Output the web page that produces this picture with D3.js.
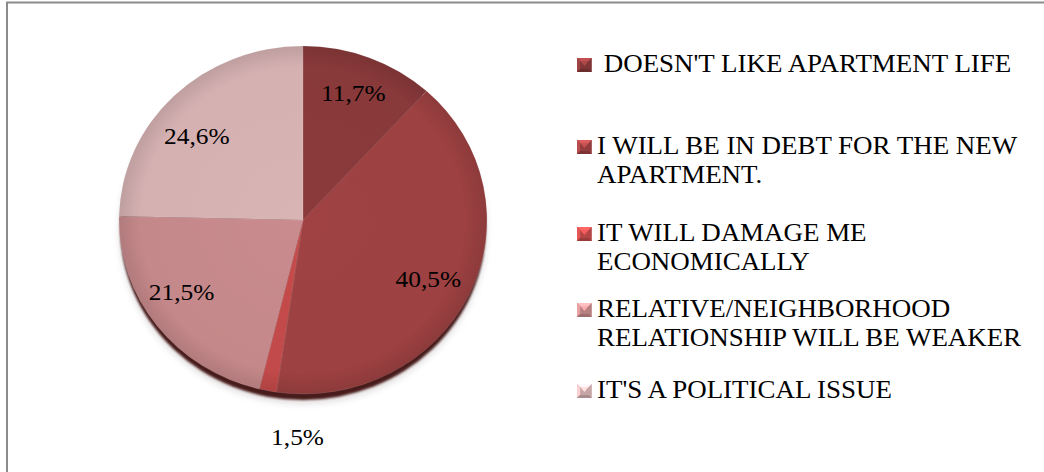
<!DOCTYPE html>
<html>
<head>
<meta charset="utf-8">
<script src="https://cdn.jsdelivr.net/npm/d3@7/dist/d3.min.js"></script>
<style>
  html, body { margin: 0; padding: 0; background: #fff; }
  svg { display: block; }
  text { font-family: "Liberation Serif", "Times New Roman", serif; fill: #000; }
</style>
</head>
<body>
<svg id="chart" width="1044" height="472"></svg>
<script>
// Survey answers: reasons given against the new apartment
const categories = [
  [" DOESN'T LIKE APARTMENT LIFE"],
  ["I WILL BE IN DEBT FOR THE NEW", "APARTMENT."],
  ["IT WILL DAMAGE ME", "ECONOMICALLY"],
  ["RELATIVE/NEIGHBORHOOD", "RELATIONSHIP WILL BE WEAKER"],
  ["IT'S A POLITICAL ISSUE"]
];
const values = [11.7, 40.5, 1.5, 21.5, 24.6];
const colors = ["#8b3a3b", "#a04243", "#c64b4b", "#c98b8d", "#d9b4b5"];

// Layout
const W = 1044, H = 472;
const SX = 1.057;                 // horizontal stretch of the whole drawing
const cx = 303 / SX, cy = 220, R = 174;
const labelRadius = [0.76, 0.76, 1.24, 0.76, 0.76];
const labelNudge = [[0, -4], [-1, 2], [36, 5], [-10, -9], [-8, 10]];
const legendX = 577 / SX, legendTextX = 597 / SX;
const legendBaselines = [72, 154, 241, 317, 398];
const lineHeight = 29.5;
const markerSize = 14;

const fmt = v => d3.format(".1f")(v).replace(".", ",") + "%";

const svg = d3.select("#chart");
const defs = svg.append("defs");

// Chart frame (only its top and left edges fall inside the view)
svg.append("rect")
  .attr("x", 7).attr("y", 2.5)
  .attr("width", W + 20).attr("height", H + 20)
  .attr("fill", "none")
  .attr("stroke", "#8c8c8c")
  .attr("stroke-width", 2);

const root = svg.append("g").attr("transform", `scale(${SX},1)`);

// Soft shading filters / gradients
const blur = defs.append("filter").attr("id", "rimBlur")
  .attr("x", "-20%").attr("y", "-20%").attr("width", "140%").attr("height", "140%");
blur.append("feGaussianBlur").attr("stdDeviation", 1.1);

const shadowBlur = defs.append("filter").attr("id", "shadowBlur")
  .attr("x", "-20%").attr("y", "-20%").attr("width", "140%").attr("height", "140%");
shadowBlur.append("feGaussianBlur").attr("stdDeviation", 3);

const edgeGrad = defs.append("radialGradient").attr("id", "edgeShade")
  .attr("cx", "50%").attr("cy", "50%").attr("r", "50%");
edgeGrad.append("stop").attr("offset", "0%").attr("stop-color", "#000").attr("stop-opacity", 0);
edgeGrad.append("stop").attr("offset", "88%").attr("stop-color", "#000").attr("stop-opacity", 0.02);
edgeGrad.append("stop").attr("offset", "100%").attr("stop-color", "#000").attr("stop-opacity", 0.12);

const pieG = root.append("g").attr("transform", `translate(${cx},${cy})`);

// soft shadow and dark rim underneath the disc
pieG.append("circle")
  .attr("cx", 0).attr("cy", 10).attr("r", R)
  .attr("fill", "#b8b0b0").attr("opacity", 0.4)
  .attr("filter", "url(#shadowBlur)");
pieG.append("circle")
  .attr("cx", 0).attr("cy", 7).attr("r", R - 1)
  .attr("fill", "#4a1c1c")
  .attr("filter", "url(#rimBlur)");

const pie = d3.pie().sort(null).value(d => d);
const arcs = pie(values);
const arc = d3.arc().innerRadius(0).outerRadius(R);

pieG.selectAll("path.slice")
  .data(arcs)
  .join("path")
  .attr("class", "slice")
  .attr("d", arc)
  .attr("fill", (d, i) => colors[i])
  .attr("stroke", "rgba(255,255,255,0.12)")
  .attr("stroke-width", 0.8);

pieG.append("circle")
  .attr("r", R)
  .attr("fill", "url(#edgeShade)")
  .attr("pointer-events", "none");

// value labels
pieG.selectAll("text.value")
  .data(arcs)
  .join("text")
  .attr("class", "value")
  .attr("transform", (d, i) => {
    const r = R * labelRadius[i];
    const c = d3.arc().innerRadius(r).outerRadius(r).centroid(d);
    return `translate(${c[0] + labelNudge[i][0]},${c[1] + labelNudge[i][1]})`;
  })
  .attr("text-anchor", "middle")
  .attr("dy", "0.35em")
  .attr("font-size", 24)
  .text(d => fmt(d.data));

// legend
const legend = root.append("g");
const items = legend.selectAll("g.item")
  .data(categories)
  .join("g")
  .attr("class", "item")
  .attr("transform", (d, i) => `translate(0,${legendBaselines[i]})`);

// bevelled square markers
items.each(function (d, i) {
  const g = d3.select(this);
  const s = markerSize, x0 = legendX, y0 = -s;
  const base = d3.color(colors[i]);
  const inset = 3;
  g.append("rect")
    .attr("x", x0).attr("y", y0).attr("width", s).attr("height", s)
    .attr("fill", base.darker(0.25));
  g.append("path")
    .attr("d", `M${x0},${y0}L${x0 + s},${y0}L${x0 + s - inset},${y0 + inset}L${x0 + inset},${y0 + inset}Z`)
    .attr("fill", base.brighter(0.9));
  g.append("path")
    .attr("d", `M${x0},${y0}L${x0 + inset},${y0 + inset}L${x0 + inset},${y0 + s - inset}L${x0},${y0 + s}Z`)
    .attr("fill", base.brighter(0.4));
  g.append("path")
    .attr("d", `M${x0},${y0 + s}L${x0 + inset},${y0 + s - inset}L${x0 + s - inset},${y0 + s - inset}L${x0 + s},${y0 + s}Z`)
    .attr("fill", base.darker(0.7));
  g.append("path")
    .attr("d", `M${x0 + inset},${y0 + inset}L${x0 + s - inset},${y0 + inset}L${x0 + s / 2},${y0 + s / 2 + 1}Z`)
    .attr("fill", base.brighter(0.6));
});

items.selectAll("text")
  .data(d => d)
  .join("text")
  .attr("x", legendTextX)
  .attr("y", (d, j) => j * lineHeight)
  .attr("font-size", 25.5)
  .style("white-space", "pre")
  .text(d => d);
</script>
</body>
</html>
